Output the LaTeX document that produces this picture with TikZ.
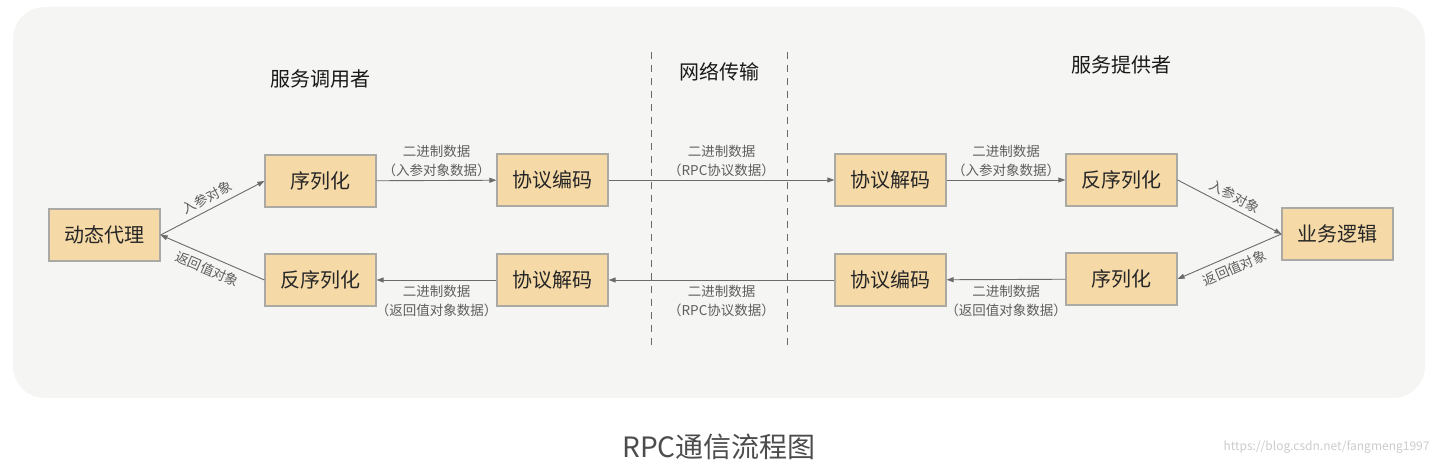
\documentclass[tikz,border=0pt]{standalone}
\usepackage{fontspec}
\setmainfont{Noto Sans CJK SC}
\usetikzlibrary{arrows.meta}
\definecolor{bgc}{HTML}{F5F5F3}
\definecolor{boxfill}{HTML}{F5D9A7}
\definecolor{boxline}{HTML}{ABA9A3}
\definecolor{linec}{HTML}{6B6B6B}
\definecolor{labc}{HTML}{5E5E5E}
\tikzset{
  procbox/.style={draw=boxline, line width=1.2pt, fill=boxfill, minimum width=111pt, minimum height=52pt, inner sep=0pt, font=\fontsize{20}{22}\selectfont, text=black!85},
  flow/.style={draw=linec, line width=0.9pt, -{Triangle[length=7pt,width=5pt]}},
  lab/.style={font=\fontsize{13.5}{19}\selectfont, text=labc, inner sep=1pt},
  heading/.style={font=\fontsize{20}{22}\selectfont, text=black!90},
  divider/.style={draw=linec, line width=1pt, dash pattern=on 7pt off 6pt}
}
\begin{document}
\begin{tikzpicture}[x=1pt,y=-1pt]
\useasboundingbox (0,0) rectangle (1436,470);
\fill[white] (0,0) rectangle (1436,470);
\fill[bgc, rounded corners=32pt] (13,7) rectangle (1425,398);

% headings
\node[heading] (h1) at (320,79) {服务调用者};
\node[heading] (h2) at (719,72) {网络传输};
\node[heading] (h3) at (1121,65) {服务提供者};

% dividers
\coordinate (d1a) at (651,52); \coordinate (d1b) at (651,346);
\coordinate (d2a) at (787,52); \coordinate (d2b) at (787,346);
\draw[divider] (d1a) -- (d1b);
\draw[divider] (d2a) -- (d2b);

% nodes
\node[procbox] (proxy) at (104.5,235) {动态代理};
\node[procbox] (serL) at (320.5,181) {序列化};
\node[procbox] (deserL) at (320.5,280) {反序列化};
\node[procbox] (encL) at (552.5,180) {协议编码};
\node[procbox] (decL) at (552.5,280) {协议解码};
\node[procbox] (decR) at (890.5,180) {协议解码};
\node[procbox] (encR) at (890.5,280) {协议编码};
\node[procbox] (deserR) at (1121.5,180) {反序列化};
\node[procbox] (serR) at (1121.5,279) {序列化};
\node[procbox] (biz) at (1337.5,234) {业务逻辑};

% connectors
\draw[flow] (proxy.east) -- node[lab, sloped, above=4pt] {入参对象} (serL.west);
\draw[flow, {Triangle[length=7pt,width=5pt]}-] (proxy.east) -- node[lab, sloped, below=5pt] {返回值对象} (deserL.west);

\draw[flow] (serL) -- node[lab, above=2pt, align=center] {二进制数据\\（入参对象数据）} (encL);
\draw[flow] (encL) -- node[lab, above=2pt, align=center] {二进制数据\\（RPC协议数据）} (decR);
\draw[flow] (decR) -- node[lab, above=2pt, align=center] {二进制数据\\（入参对象数据）} (deserR);

\draw[flow] (deserR.east) -- node[lab, sloped, above=4pt] {入参对象} (biz.west);
\draw[flow, {Triangle[length=7pt,width=5pt]}-] (serR.east) -- node[lab, sloped, below=5pt] {返回值对象} (biz.west);

\draw[flow] (serR) -- node[lab, below=4pt, align=center] {二进制数据\\（返回值对象数据）} (encR);
\draw[flow] (encR) -- node[lab, below=4pt, align=center] {二进制数据\\（RPC协议数据）} (decL);
\draw[flow] (decL) -- node[lab, below=4pt, align=center] {二进制数据\\（返回值对象数据）} (deserL);

% caption
\node[font=\fontsize{28}{30}\selectfont, text=black!70] (cap) at (719,447) {RPC通信流程图};
\node[font=\fontsize{12}{14}\selectfont, text=black!20, anchor=east] (wm) at (1433,447) {https://blog.csdn.net/fangmeng1997};
\end{tikzpicture}
\end{document}
